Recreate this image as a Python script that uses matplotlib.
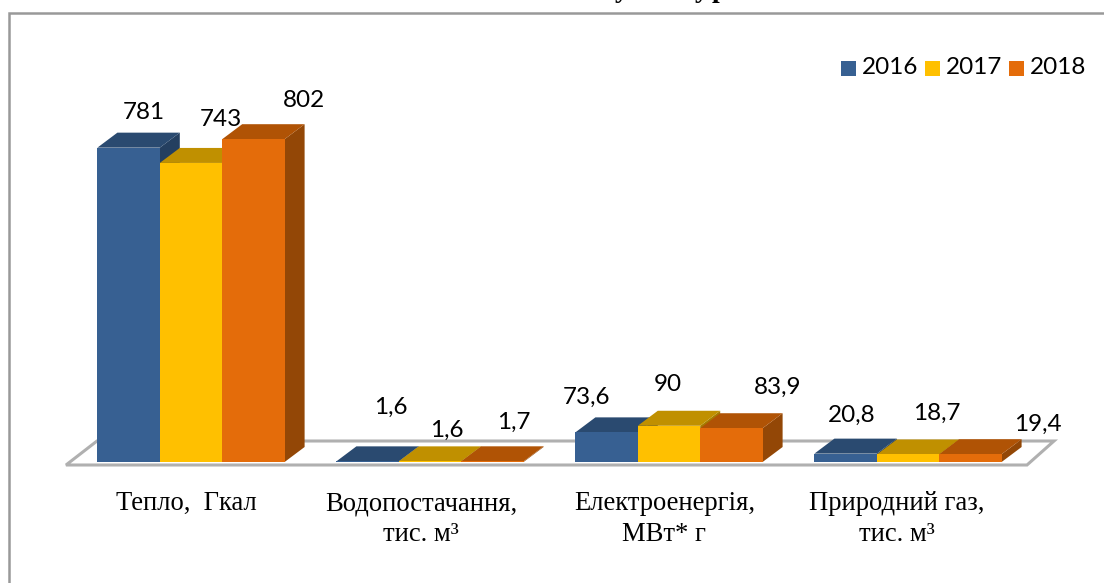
import matplotlib
matplotlib.use("Agg")
import matplotlib.pyplot as plt
from matplotlib.patches import Polygon, Rectangle

categories = ["Тепло,  Гкал", "Водопостачання,\nтис. м³", "Електроенергія,\nМВт* г", "Природний газ,\nтис. м³"]
years = ["2016", "2017", "2018"]
v2016 = [781, 1.6, 73.6, 20.8]
v2017 = [743, 1.6, 90, 18.7]
v2018 = [802, 1.7, 83.9, 19.4]
labels2016 = ["781", "1,6", "73,6", "20,8"]
labels2017 = ["743", "1,6", "90", "18,7"]
labels2018 = ["802", "1,7", "83,9", "19,4"]
front = ["#376092", "#FFC000", "#E46C0A"]
top = ["#2A4A70", "#C09000", "#B05305"]
side = ["#243F60", "#A67C00", "#934706"]

W, H = 1104, 583
fig = plt.figure(figsize=(W / 100, H / 100), dpi=100)
bg = fig.add_axes([0, 0, 1, 1])
bg.set_xlim(0, W); bg.set_ylim(H, 0); bg.axis("off")
bg.plot([9, 9, W], [H, 12.5, 12.5], color="#999999", lw=1.8, solid_joinstyle="miter")

# plot axes: x in category units, y in data units; base at y=462px, 0.4025 px/unit
base_px, px_per = 462.0, 0.4025
x0_px, cat_px = 191.0, 239.0
ax = fig.add_axes([0, 0, 1, 1], facecolor="none")
ax.set_xlim(-x0_px / cat_px, (W - x0_px) / cat_px)
ax.set_ylim(-(H - base_px) / px_per, base_px / px_per)
ax.axis("off")
ux = 1 / cat_px
uy = 1 / px_per
bw = 62.4 * ux
dx, dy = 20 * ux, 15 * uy

# floor
fl = Polygon([(-125 * ux, -3 * uy), (836 * ux, -3 * uy), (863 * ux, 21 * uy), (-94 * ux, 21 * uy)],
             closed=True, fc="white", ec="#B0B0B0", lw=2.2, zorder=1)
ax.add_patch(fl)

series = [v2016, v2017, v2018]
texts = [labels2016, labels2017, labels2018]
lab_off = {  # label centre in px relative to top-front bar centre
    0: [(15.4, -35.6), (23.4, -54.4), (-19.6, -35.4), (6.4, -38.6)],
    1: [(30, -43), (17, -31.4), (-1, -40.8), (29, -41.5)],
    2: [(50.6, -38.2), (21.6, -39.3), (46.6, -41.2), (67.6, -30.2)],
}
cat_off = [-5, -9, -4.5, -11]
for i in range(4):
    for s in range(3):
        x = i + (s - 1) * bw
        v = series[s][i]
        l, r = x - bw / 2, x + bw / 2
        z = 3 + s
        ax.add_patch(Polygon([(r, 0), (r + dx, dy), (r + dx, v + dy), (r, v)], fc=side[s], ec="none", zorder=z))
        ax.add_patch(Polygon([(l, v), (l + dx, v + dy), (r + dx, v + dy), (r, v)], fc=top[s], ec="none", zorder=z))
        ax.bar(x, v, width=bw, color=front[s], zorder=z + 0.5)
        ox, oy = lab_off[s][i]
        ax.text(x + ox * ux, v - oy * uy, texts[s][i], ha="center", va="center", fontsize=17.5,
                family="Lato", color="black", zorder=10)
    ax.text(i + cat_off[i] * ux, -29 * uy, categories[i], ha="center", va="top", fontsize=19.2,
            family="Liberation Serif", color="black", linespacing=1.33, zorder=10)

# legend
lx = [841, 925, 1009]
for s in range(3):
    bg.add_patch(Rectangle((lx[s], 61), 15, 15, fc=front[s], ec="none"))
    bg.text(lx[s] + 21, 68, years[s], ha="left", va="center", fontsize=17.5, family="Lato", color="black")

# clipped title fragment at the top edge
for tx, ch in [(622, "у"), (702, "у"), (719, "р")]:
    bg.text(tx, -3, ch, ha="center", va="baseline", fontsize=20, family="Liberation Serif",
            weight="bold", clip_on=True)

fig.savefig("out.png", dpi=100)
